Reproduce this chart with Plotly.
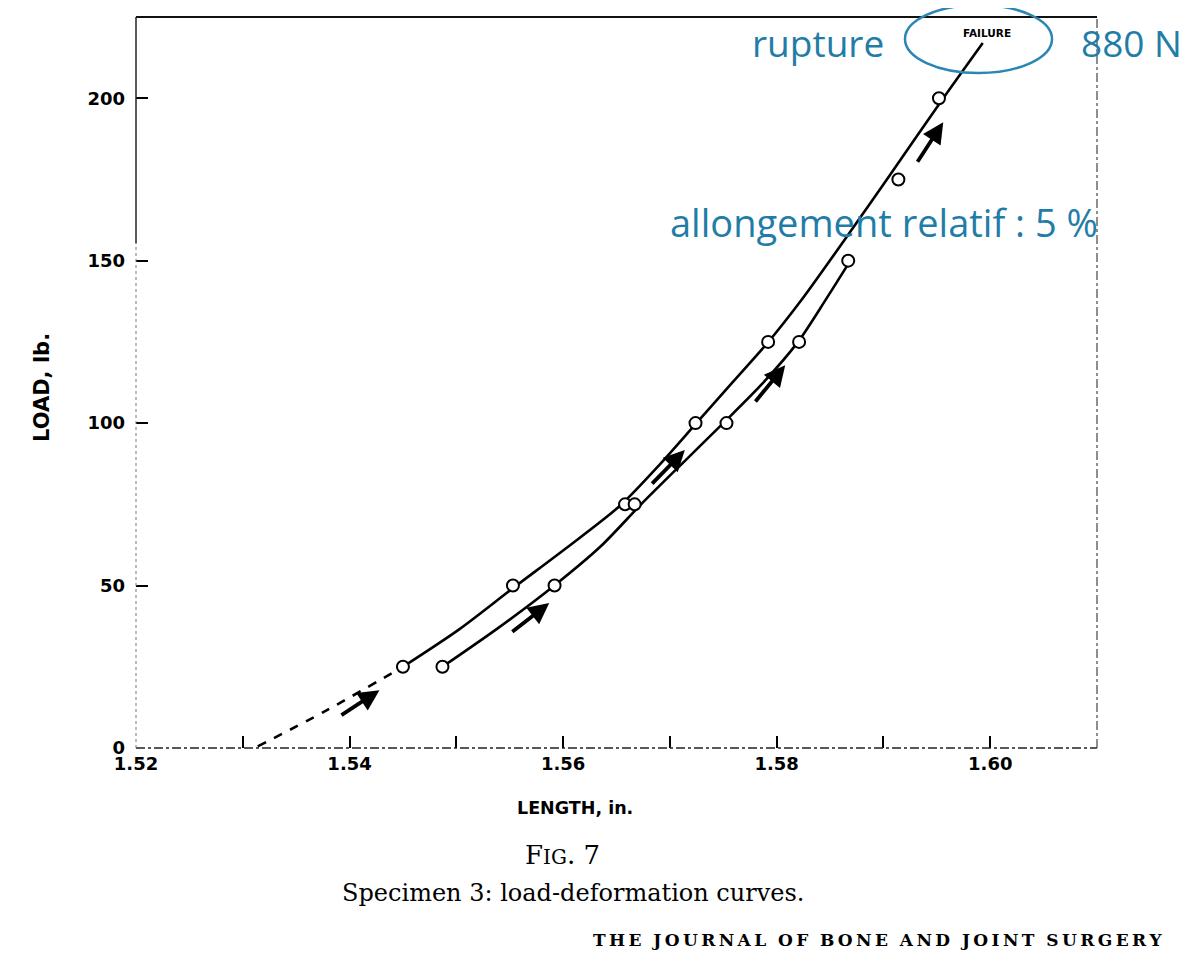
import plotly.graph_objects as go

# ---- data ----
x_ticks = [1.52, 1.54, 1.56, 1.58, 1.60]
x_tick_labels = ["1.52", "1.54", "1.56", "1.58", "1.60"]
y_ticks = [0, 50, 100, 150, 200]
y_tick_labels = ["0", "50", "100", "150", "200"]

# measured points, curve 1 (upper, goes to failure)
upper_pts_x = [1.5450, 1.5553, 1.5658, 1.5724, 1.5792, 1.5914, 1.5952]
upper_pts_y = [25, 50, 75, 100, 125, 175, 200]
# traced drawn curve 1
upper_line_x = [1.5450, 1.5503, 1.5553, 1.5604, 1.5653, 1.5690, 1.5724,
                1.5758, 1.5792, 1.5823, 1.5864, 1.5904, 1.5956, 1.5993]
upper_line_y = [25, 36.6, 49.2, 61.8, 74.5, 87.1, 99.7,
                112.3, 124.9, 137.8, 156.6, 175.4, 200, 217]

# dashed extrapolation of curve 1 to zero load
dashed_x = [1.5314, 1.5378, 1.5450]
dashed_y = [0.5, 11.5, 25]

# measured points, curve 2 (lower)
lower_pts_x = [1.5487, 1.5592, 1.5667, 1.5753, 1.5821, 1.5867]
lower_pts_y = [25, 50, 75, 100, 125, 150]
# traced drawn curve 2
lower_line_x = [1.5487, 1.5539, 1.5591, 1.5635, 1.5673, 1.5711, 1.5750,
                1.5787, 1.5820, 1.5846, 1.5869]
lower_line_y = [25, 36.9, 49.8, 62, 75, 87.4, 100, 112.3, 125, 138, 150]

# direction arrows (tail -> head)
arrow_tail_x = [1.5391, 1.5551, 1.5682, 1.5779, 1.5931]
arrow_tail_y = [9.8, 35.4, 80.9, 106.2, 180.0]
arrow_head_x = [1.5428, 1.5587, 1.5714, 1.5808, 1.5956]
arrow_head_y = [17.8, 44.6, 91.7, 117.8, 192.6]

BLUE = "#1f7da8"
SANS_B = "DejaVu Sans"

fig = go.Figure()

fig.add_trace(go.Scatter(x=dashed_x, y=dashed_y, mode="lines",
                         line=dict(color="black", width=2.6, dash="dash", shape="spline"),
                         hoverinfo="skip", showlegend=False))
fig.add_trace(go.Scatter(x=upper_line_x, y=upper_line_y, mode="lines",
                         line=dict(color="black", width=2.6, shape="spline", smoothing=0.8),
                         showlegend=False))
fig.add_trace(go.Scatter(x=lower_line_x, y=lower_line_y, mode="lines",
                         line=dict(color="black", width=2.6, shape="spline", smoothing=0.8),
                         showlegend=False))
marker_style = dict(symbol="circle", size=12, color="white",
                    line=dict(color="black", width=2))
fig.add_trace(go.Scatter(x=upper_pts_x, y=upper_pts_y, mode="markers",
                         marker=marker_style, showlegend=False))
fig.add_trace(go.Scatter(x=lower_pts_x, y=lower_pts_y, mode="markers",
                         marker=marker_style, showlegend=False))

annotations = []
for tx, ty, hx, hy in zip(arrow_tail_x, arrow_tail_y, arrow_head_x, arrow_head_y):
    annotations.append(dict(x=hx, y=hy, ax=tx, ay=ty, xref="x", yref="y",
                            axref="x", ayref="y", text="", showarrow=True,
                            arrowhead=2, arrowsize=1.1, arrowwidth=3.8,
                            arrowcolor="black"))

def txt(text, x, y, size, family, color="black", **kw):
    d = dict(text=text, x=x, y=y, xref="paper", yref="paper", showarrow=False,
             font=dict(size=size, family=family, color=color),
             xanchor="center", yanchor="middle")
    d.update(kw)
    return d

TS = "\u2009"
journal = "  ".join(TS.join(w) for w in "THE JOURNAL OF BONE AND JOINT SURGERY".split())

annotations += [
    txt("<b>LOAD, lb.</b>", -0.0978, 0.4925, 21, SANS_B, textangle=-90),
    txt("<b>LENGTH, in.</b>", 0.4568, -0.0821, 17.5, SANS_B),
    txt("F<span style='font-size:20px'>IG</span>. 7", 0.4433, -0.1464, 26, "DejaVu Serif"),
    txt("Specimen 3: load-deformation curves.", 0.4547, -0.1984, 24, "DejaVu Serif"),
    txt("<b>" + journal + "</b>", 0.7721, -0.2627, 17, "DejaVu Serif"),
    txt("<b>FAILURE</b>", 0.8855, 0.978, 10.5, SANS_B),
    txt("rupture", 0.7097, 0.9658, 37, "Open Sans", BLUE),
    txt("880 N", 1.0364, 0.9658, 37, "Open Sans", BLUE),
    txt("allongement relatif : 5 %", 0.7784, 0.7196, 38, "Open Sans", BLUE),
]

shapes = [
    # frame
    dict(type="line", xref="paper", yref="paper", x0=0, x1=1, y0=1, y1=1,
         line=dict(color="#111", width=2)),
    dict(type="line", xref="paper", yref="paper", x0=0, x1=1, y0=0, y1=0,
         line=dict(color="#222", width=1.5, dash="dashdot")),
    dict(type="line", xref="paper", yref="paper", x0=0, x1=0, y0=0.69, y1=1,
         line=dict(color="#222", width=1.5)),
    dict(type="line", xref="paper", yref="paper", x0=0, x1=0, y0=0, y1=0.69,
         line=dict(color="#777", width=1, dash="dot")),
    dict(type="line", xref="paper", yref="paper", x0=1, x1=1, y0=0, y1=1,
         line=dict(color="#444", width=1.2, dash="dashdot")),
    # ellipse around FAILURE
    dict(type="circle", xref="paper", yref="paper", x0=0.8002, x1=0.9532,
         y0=0.9234, y1=1.0164, line=dict(color="#2a86b2", width=2.5)),
]

# page body has an 8px margin, so the figure is 8px smaller and margins shifted
fig.update_layout(
    width=1192, height=964,
    margin=dict(l=128, r=103, t=9, b=224, autoexpand=False),
    paper_bgcolor="white", plot_bgcolor="white",
    annotations=annotations, shapes=shapes,
    showlegend=False,
)
fig.update_xaxes(range=[1.52, 1.61], tickvals=x_ticks, ticktext=x_tick_labels,
                 ticks="inside", ticklen=12, tickwidth=1.5, tickcolor="black",
                 minor=dict(dtick=0.01, tick0=1.52, ticks="inside", ticklen=12,
                            tickwidth=1.5, tickcolor="black"),
                 showgrid=False, zeroline=False, showline=False, automargin=False,
                 tickfont=dict(size=18, family=SANS_B, color="black", weight="bold"),
                 ticklabelstandoff=3)
fig.update_yaxes(range=[0, 225], tickvals=y_ticks, ticktext=y_tick_labels,
                 ticks="inside", ticklen=12, tickwidth=1.5, tickcolor="black",
                 showgrid=False, zeroline=False, showline=False, automargin=False,
                 tickfont=dict(size=18, family=SANS_B, color="black", weight="bold"),
                 ticklabelstandoff=10)

fig.write_html("out.html")
